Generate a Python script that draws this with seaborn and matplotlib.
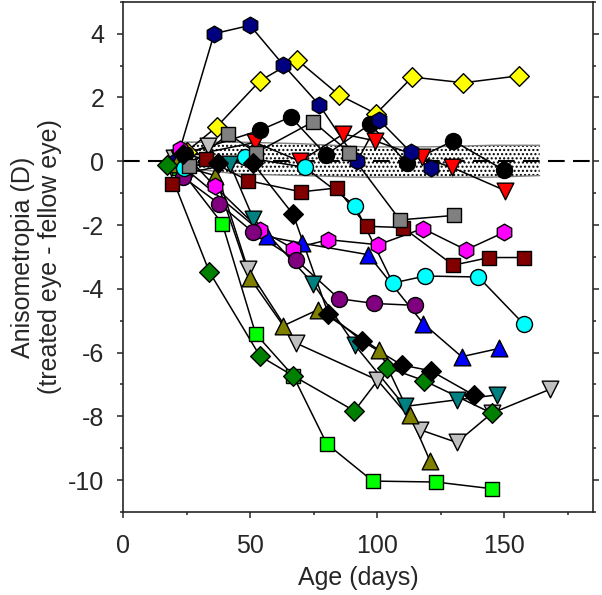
import numpy as np
import pandas as pd
import matplotlib
matplotlib.use("Agg")
import matplotlib.pyplot as plt
import seaborn as sns
from matplotlib.ticker import MultipleLocator

# ---- data (age in days, anisometropia in D) ----
navy_hex_days = [21, 35.9, 50, 63.1, 77.2, 92.2, 100.9, 113.3, 121.1]
navy_hex_vals = [0.0, 4.0, 4.26, 3.02, 1.77, 0.0, 1.29, 0.28, -0.22]

yellow_dia_days = [25, 36.9, 53.9, 68.4, 85.0, 99.6, 113.9, 134.0, 156.0]
yellow_dia_vals = [0.3, 1.08, 2.52, 3.19, 2.08, 1.49, 2.64, 2.46, 2.68]

black_circ_days = [24.4, 53.9, 66.0, 79.9, 97.2, 111.9, 130.0, 150.0]
black_circ_vals = [0.22, 0.97, 1.39, 0.2, 1.16, -0.06, 0.64, -0.28]

gray_sq_days = [26.0, 41.5, 52.4, 74.9, 89.1, 109.0, 130.3]
gray_sq_vals = [-0.14, 0.85, 0.27, 1.24, 0.27, -1.84, -1.7]

red_tri_days = [22, 52, 69.7, 86.7, 99.2, 117.5, 129.4, 150.4]
red_tri_vals = [0.1, 0.59, 0.0, 0.85, 0.64, 0.12, -0.19, -0.92]

maroon_sq_days = [19.2, 32.7, 49.3, 70.1, 84.1, 96.0, 110.2, 130.0, 144.2, 157.9]
maroon_sq_vals = [-0.71, 0.07, -0.61, -0.96, -0.84, -2.04, -2.08, -3.26, -3.02, -3.02]

cyan_circ_days = [24, 48, 71.6, 91.3, 106.2, 118.9, 139.9, 157.9]
cyan_circ_vals = [-0.2, 0.12, -0.19, -1.39, -3.82, -3.6, -3.63, -5.12]

magenta_hex_days = [22.4, 36.2, 53.9, 67.0, 80.8, 100.5, 118.0, 135.0, 150.0]
magenta_hex_vals = [0.38, -0.79, -2.15, -2.74, -2.46, -2.62, -2.11, -2.78, -2.23]

purple_circ_days = [23.7, 37.9, 51.1, 68.1, 85.0, 98.8, 115.0]
purple_circ_vals = [-0.5, -1.34, -2.22, -3.09, -4.31, -4.46, -4.52]

teal_tri_days = [23.6, 42.1, 51.3, 74.9, 91.3, 111.0, 131.6, 147.1]
teal_tri_vals = [-0.4, -0.09, -1.8, -3.84, -5.77, -7.69, -7.48, -7.33]

black_dia_days = [23.5, 37.5, 51.1, 67.0, 80.8, 94.0, 109.7, 121.1, 138.2]
black_dia_vals = [0.24, -0.04, -0.06, -1.67, -4.78, -5.63, -6.39, -6.57, -7.34]

olive_tri_days = [21, 36.2, 50.0, 63.1, 76.9, 100.9, 113.0, 120.9]
olive_tri_vals = [-0.1, -0.45, -3.67, -5.16, -4.65, -5.93, -7.96, -9.41]

silver_tri_days = [20, 33.6, 49.1, 68.0, 100.1, 116.9, 131.4, 145.2, 168.1]
silver_tri_vals = [0.1, 0.48, -3.37, -5.7, -6.86, -8.42, -8.82, -7.9, -7.15]

blue_tri_days = [24, 56.6, 70.4, 96.5, 118.2, 133.3, 148.1]
blue_tri_vals = [-0.2, -2.36, -2.57, -2.93, -5.09, -6.13, -5.87]

green_dia_days = [17.4, 34.0, 53.9, 67.0, 91.1, 104.1, 118.5, 145.1]
green_dia_vals = [-0.12, -3.47, -6.11, -6.73, -7.83, -6.47, -6.88, -7.9]

lime_sq_days = [22, 39.1, 52.2, 67.0, 80.2, 98.3, 123.2, 145.2]
lime_sq_vals = [-0.2, -1.96, -5.41, -6.73, -8.86, -10.03, -10.06, -10.27]

# normal range band (shaded)
band_days = [24, 45, 70, 95, 120, 145, 164]
band_hi = [0.6, 0.6, 0.55, 0.45, 0.45, 0.5, 0.5]
band_lo = [-0.2, -0.4, -0.45, -0.5, -0.5, -0.5, -0.45]

# drawing order: first entry ends up at the bottom
series = {
    "lime_sq": (lime_sq_days, lime_sq_vals, "s", "#00FF00", 10.5),
    "silver_tri": (silver_tri_days, silver_tri_vals, "v", "#C0C0C0", 12),
    "red_tri": (red_tri_days, red_tri_vals, "v", "#FF0000", 12),
    "yellow_dia": (yellow_dia_days, yellow_dia_vals, "D", "#FFFF00", 10),
    "black_circ": (black_circ_days, black_circ_vals, "o", "black", 11.5),
    "navy_hex": (navy_hex_days, navy_hex_vals, "h", "#000080", 12),
    "olive_tri": (olive_tri_days, olive_tri_vals, "^", "#808000", 12),
    "teal_tri": (teal_tri_days, teal_tri_vals, "v", "#008080", 12),
    "blue_tri": (blue_tri_days, blue_tri_vals, "^", "#0000FF", 12),
    "magenta_hex": (magenta_hex_days, magenta_hex_vals, "h", "#FF00FF", 12),
    "purple_circ": (purple_circ_days, purple_circ_vals, "o", "#800080", 11.5),
    "cyan_circ": (cyan_circ_days, cyan_circ_vals, "o", "#00FFFF", 11.5),
    "maroon_sq": (maroon_sq_days, maroon_sq_vals, "s", "#800000", 10.5),
    "green_dia": (green_dia_days, green_dia_vals, "D", "#008000", 10),
    "gray_sq": (gray_sq_days, gray_sq_vals, "s", "#808080", 10.5),
    "black_dia": (black_dia_days, black_dia_vals, "D", "black", 10),
}

rows = []
for name, (d, v, _, _, _) in series.items():
    for i, (a, b) in enumerate(zip(d, v)):
        rows.append({"animal": name, "order": i, "age": a, "aniso": b})
df = pd.DataFrame(rows)

# ---- style ----
sns.set_style("ticks")
plt.rcParams["font.family"] = ["Liberation Sans", "DejaVu Sans"]
plt.rcParams["axes.unicode_minus"] = False
plt.rcParams["hatch.linewidth"] = 1.0

fig = plt.figure(figsize=(6.02, 5.95), dpi=100)
ax = fig.add_axes([123 / 602, 1 - 512 / 595, (593 - 123) / 602, 512 / 595 - 0.003])

# shaded normal band
ax.fill_between(band_days, band_lo, band_hi, facecolor="white", edgecolor="black",
                hatch="....", linewidth=0, zorder=1)
ax.plot(band_days, band_hi, color="gray", lw=1, zorder=1.5)
ax.plot(band_days, band_lo, color="gray", lw=1, zorder=1.5)

# zero line
ax.axhline(0, color="black", lw=1.5, ls=(0, (8, 4)), zorder=2)

# connecting lines for each animal
sns.lineplot(data=df, x="age", y="aniso", units="animal", estimator=None, sort=False,
             color="black", lw=1.1, ax=ax, zorder=3, legend=False)

# markers
for k, (name, (d, v, m, c, ms)) in enumerate(series.items()):
    sub = df[df["animal"] == name]
    sns.scatterplot(data=sub, x="age", y="aniso", marker=m, color=c, s=ms ** 2,
                    edgecolor="black", linewidth=1.0, ax=ax, zorder=4 + 0.01 * k,
                    legend=False)

ax.set_xlim(0, 185)
ax.set_ylim(-11, 5)
ax.xaxis.set_major_locator(MultipleLocator(50))
ax.xaxis.set_minor_locator(MultipleLocator(25))
ax.yaxis.set_major_locator(MultipleLocator(2))
ax.yaxis.set_minor_locator(MultipleLocator(1))
ax.tick_params(which="both", direction="out", labelsize=18, width=1.1, right=True)
ax.tick_params(which="major", length=4.5)
ax.tick_params(axis="x", which="major", pad=11)
ax.tick_params(axis="y", which="major", pad=9)
ax.tick_params(which="minor", length=2.5)
for sp in ax.spines.values():
    sp.set_visible(True)
    sp.set_linewidth(1.2)

ax.set_xlabel("Age (days)", fontsize=18, labelpad=6)
ax.set_ylabel("Anisometropia (D)\n(treated eye - fellow eye)", fontsize=18, labelpad=4)

fig.savefig("out.png", dpi=100)
